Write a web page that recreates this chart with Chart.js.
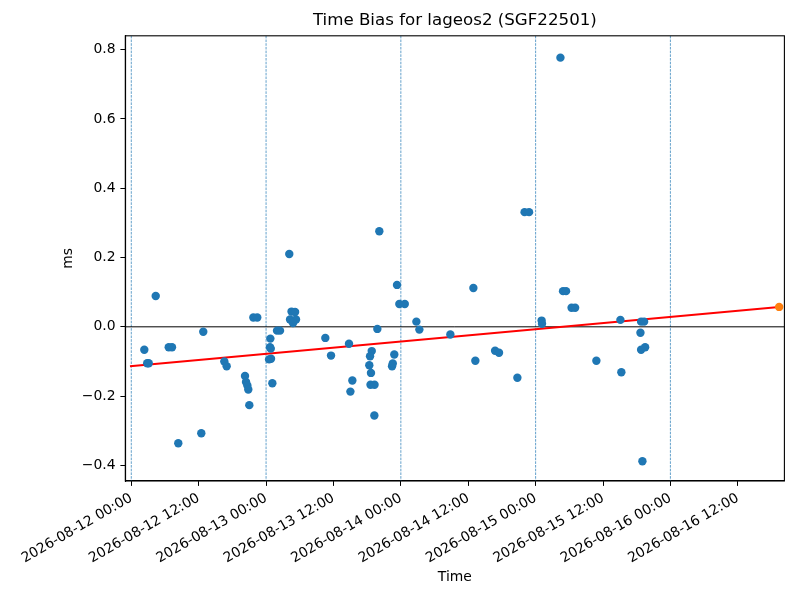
<!DOCTYPE html>
<html>
<head>
<meta charset="utf-8">
<script src="https://cdn.jsdelivr.net/npm/chart.js@4.4.1/dist/chart.umd.min.js"></script>
<style>
  body { margin: 0; background: #fff; }
  canvas { display: block; }
</style>
</head>
<body>
<canvas id="bias-chart" width="800" height="600"></canvas>
<script>
// observation times (UTC) and time bias in ms
const biasTimes = [
    '2026-08-12T02:19', '2026-08-12T02:50', '2026-08-12T03:06', '2026-08-12T04:21',
    '2026-08-12T06:40', '2026-08-12T07:15', '2026-08-12T08:22', '2026-08-12T12:28',
    '2026-08-12T12:49', '2026-08-12T16:34', '2026-08-12T16:59', '2026-08-12T20:15',
    '2026-08-12T20:26', '2026-08-12T20:40', '2026-08-12T20:50', '2026-08-12T21:01',
    '2026-08-12T21:44', '2026-08-12T22:26',
    '2026-08-13T00:46', '2026-08-13T00:42', '2026-08-13T00:50', '2026-08-13T00:32',
    '2026-08-13T00:53', '2026-08-13T01:07', '2026-08-13T01:57', '2026-08-13T02:29',
    '2026-08-13T04:08', '2026-08-13T04:32', '2026-08-13T05:10', '2026-08-13T04:16',
    '2026-08-13T05:20', '2026-08-13T04:48', '2026-08-13T10:33', '2026-08-13T11:34',
    '2026-08-13T14:46', '2026-08-13T15:01', '2026-08-13T15:22', '2026-08-13T18:49',
    '2026-08-13T18:31', '2026-08-13T18:23', '2026-08-13T18:41', '2026-08-13T18:36',
    '2026-08-13T19:19', '2026-08-13T19:17', '2026-08-13T19:49', '2026-08-13T20:10',
    '2026-08-13T22:26', '2026-08-13T22:34', '2026-08-13T22:50', '2026-08-13T23:19',
    '2026-08-13T23:44',
    '2026-08-14T00:42', '2026-08-14T02:46', '2026-08-14T03:18', '2026-08-14T08:49',
    '2026-08-14T12:55', '2026-08-14T13:16', '2026-08-14T16:47', '2026-08-14T17:29',
    '2026-08-14T20:45', '2026-08-14T22:02', '2026-08-14T22:50',
    '2026-08-15T01:04', '2026-08-15T01:08', '2026-08-15T04:25', '2026-08-15T04:53',
    '2026-08-15T05:25', '2026-08-15T06:24', '2026-08-15T07:02', '2026-08-15T10:49',
    '2026-08-15T15:06', '2026-08-15T15:16', '2026-08-15T18:40', '2026-08-15T18:47',
    '2026-08-15T19:19', '2026-08-15T18:47', '2026-08-15T19:30', '2026-08-15T19:01'
];
const biasValues = [
    -0.066, -0.105, -0.105, 0.089,
    -0.059, -0.059, -0.336, -0.307,
    -0.014, -0.100, -0.114, -0.142,
    -0.159, -0.169, -0.181, -0.226,
    0.027, 0.027,
    -0.034, -0.059, -0.063, -0.094,
    -0.092, -0.163, -0.011, -0.011,
    0.210, 0.044, 0.043, 0.021,
    0.021, 0.011, -0.032, -0.083,
    -0.049, -0.187, -0.155, -0.070,
    -0.085, -0.111, -0.133, -0.167,
    -0.167, -0.256, -0.006, 0.276,
    -0.114, -0.106, -0.080, 0.121,
    0.066,
    0.066, 0.015, -0.008, -0.022,
    0.112, -0.098, -0.069, -0.075,
    -0.147, 0.331, 0.331,
    0.018, 0.009, 0.777, 0.103,
    0.103, 0.055, 0.055, -0.098,
    0.020, -0.131, -0.017, 0.015,
    0.015, -0.066, -0.059, -0.388
];

// predicted point and linear fit ends
const predTimes = ['2026-08-16T19:22'];
const predValues = [0.0575];
const fitTimes = ['2026-08-11T23:46', '2026-08-16T19:22'];
const fitValues = [-0.114, 0.0575];

const dayLines = ['2026-08-12T00:00', '2026-08-13T00:00', '2026-08-14T00:00', '2026-08-15T00:00', '2026-08-16T00:00'];
const xTickTimes = [
    '2026-08-12T00:00', '2026-08-12T12:00', '2026-08-13T00:00', '2026-08-13T12:00',
    '2026-08-14T00:00', '2026-08-14T12:00', '2026-08-15T00:00', '2026-08-15T12:00',
    '2026-08-16T00:00', '2026-08-16T12:00'
];
const yTicks = [-0.4, -0.2, 0.0, 0.2, 0.4, 0.6, 0.8];
const xRange = ['2026-08-11T22:56', '2026-08-16T20:18'];
const yRange = [-0.445, 0.840];

function toMs(s) {
    return Date.parse(s + ':00Z');
}

function fmtTime(ms) {
    return new Date(ms).toISOString().slice(0, 16).replace('T', ' ');
}

function toPoints(times, values) {
    var pts = [];
    for (let i = 0; i < times.length; i++) {
        pts.push({ x: toMs(times[i]), y: values[i] });
    }
    return pts;
}

const tickFont = { family: 'DejaVu Sans', size: 13.9 };

// dashed day lines, zero line under the points; frame on top
const guides = {
    id: 'guides',
    beforeDatasetsDraw(chart) {
        const { ctx, chartArea, scales } = chart;
        ctx.save();
        ctx.beginPath();
        ctx.rect(chartArea.left, chartArea.top, chartArea.right - chartArea.left, chartArea.bottom - chartArea.top);
        ctx.clip();
        ctx.strokeStyle = '#1f77b4';
        ctx.lineWidth = 0.7;
        ctx.setLineDash([2.6, 1.1]);
        dayLines.forEach(d => {
            const px = scales.x.getPixelForValue(toMs(d));
            ctx.beginPath();
            ctx.moveTo(px, chartArea.top);
            ctx.lineTo(px, chartArea.bottom);
            ctx.stroke();
        });
        ctx.setLineDash([]);
        ctx.strokeStyle = '#000';
        ctx.lineWidth = 1;
        const py = scales.y.getPixelForValue(0);
        ctx.beginPath();
        ctx.moveTo(chartArea.left, py);
        ctx.lineTo(chartArea.right, py);
        ctx.stroke();
        ctx.restore();
    },
    afterDraw(chart) {
        const { ctx, chartArea } = chart;
        ctx.save();
        ctx.strokeStyle = '#000';
        ctx.lineWidth = 1.1;
        ctx.strokeRect(chartArea.left, chartArea.top, chartArea.right - chartArea.left, chartArea.bottom - chartArea.top);
        ctx.restore();
    }
};

Chart.defaults.color = '#000';
Chart.defaults.font.family = 'DejaVu Sans';

const ctx = document.getElementById('bias-chart').getContext('2d');
window.biasChart = new Chart(ctx, {
    type: 'scatter',
    data: {
        datasets: [{
            label: 'bias',
            data: toPoints(biasTimes, biasValues),
            backgroundColor: '#1f77b4',
            borderWidth: 0,
            pointRadius: 4.2,
            order: 1
        }, {
            label: 'prediction',
            data: toPoints(predTimes, predValues),
            backgroundColor: '#ff7f0e',
            borderWidth: 0,
            pointRadius: 4.2,
            order: 1
        }, {
            label: 'fit',
            data: toPoints(fitTimes, fitValues),
            showLine: true,
            borderColor: 'red',
            borderWidth: 2,
            pointRadius: 0,
            order: 2
        }]
    },
    options: {
        responsive: false,
        animation: false,
        layout: {
            padding: { left: 0, right: 15.6, top: 0, bottom: 0 }
        },
        scales: {
            x: {
                type: 'linear',
                min: toMs(xRange[0]),
                max: toMs(xRange[1]),
                afterBuildTicks: axis => {
                    axis.ticks = xTickTimes.map(t => ({ value: toMs(t) }));
                },
                afterFit: axis => { axis.height = 119; },
                ticks: {
                    autoSkip: false,
                    minRotation: 30,
                    maxRotation: 30,
                    padding: 4,
                    font: tickFont,
                    color: '#000',
                    callback: value => fmtTime(value)
                },
                grid: {
                    drawOnChartArea: false,
                    drawTicks: true,
                    tickLength: 4.9,
                    tickColor: '#000',
                    lineWidth: 1
                },
                border: { display: true, color: '#000', width: 1.1 },
                title: {
                    display: true,
                    text: 'Time',
                    font: tickFont,
                    color: '#000',
                    padding: { top: 0, bottom: 14.7 }
                }
            },
            y: {
                type: 'linear',
                min: yRange[0],
                max: yRange[1],
                afterBuildTicks: axis => {
                    axis.ticks = yTicks.map(v => ({ value: v }));
                },
                afterFit: axis => { axis.width = 125.3; },
                ticks: {
                    padding: 4.9,
                    font: tickFont,
                    color: '#000',
                    callback: value => value.toFixed(1).replace('-', '\u2212')
                },
                grid: {
                    drawOnChartArea: false,
                    drawTicks: true,
                    tickLength: 4.9,
                    tickColor: '#000',
                    lineWidth: 1
                },
                border: { display: true, color: '#000', width: 1.1 },
                title: {
                    display: true,
                    text: 'ms',
                    font: tickFont,
                    color: '#000',
                    padding: { top: 59.7, bottom: 0 }
                }
            }
        },
        plugins: {
            legend: { display: false },
            tooltip: { enabled: false },
            title: {
                display: true,
                text: 'Time Bias for lageos2 (SGF22501)',
                fullSize: false,
                color: '#000',
                font: { family: 'DejaVu Sans', size: 16.67, weight: 'normal', lineHeight: 1.2 },
                padding: { top: 11, bottom: 4.8 }
            }
        }
    },
    plugins: [guides]
});
</script>
</body>
</html>
